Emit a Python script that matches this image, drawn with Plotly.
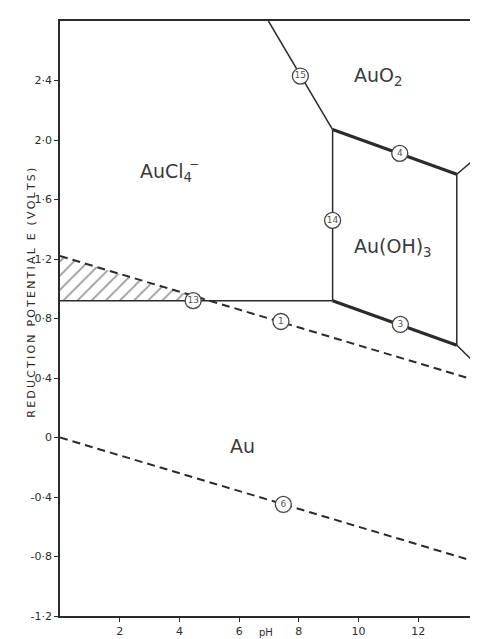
import plotly.graph_objects as go

# boundary lines of the Au-Cl-H2O diagram (pH, E in volts)
line15_ph = [6.98, 9.13]
line15_e = [2.80, 2.07]
line4_ph = [9.13, 13.29]
line4_e = [2.07, 1.77]
upper_right_ph = [13.29, 14.0]
upper_right_e = [1.77, 1.89]
line14_ph = [9.13, 9.13]
line14_e = [2.07, 0.92]
chloride_ph = [0.0, 9.13]
chloride_e = [0.92, 0.92]
line3_ph = [9.13, 13.29]
line3_e = [0.92, 0.62]
vertical_ph = [13.29, 13.29]
vertical_e = [1.77, 0.62]
lower_right_ph = [13.29, 14.0]
lower_right_e = [0.62, 0.48]

# water stability lines (dashed)
oxygen_ph = [0.0, 14.0]
oxygen_e = [1.22, 0.38]
hydrogen_ph = [0.0, 14.0]
hydrogen_e = [0.0, -0.84]

# circled line numbers
circle_labels = ["15", "4", "14", "13", "1", "3", "6"]
circle_ph = [8.05, 11.38, 9.13, 4.46, 7.40, 11.40, 7.48]
circle_e = [2.43, 1.91, 1.46, 0.92, 0.78, 0.76, -0.45]

# region names
region_labels = ["AuCl<sub>4</sub>", "AuO<sub>2</sub>", "Au(OH)<sub>3</sub>", "Au"]
region_ph = [3.55, 10.65, 11.15, 6.1]
region_e = [1.78, 2.43, 1.28, -0.06]

y_tickvals = [2.4, 2.0, 1.6, 1.2, 0.8, 0.4, 0, -0.4, -0.8, -1.2]
y_ticktext = ["2·4", "2·0", "1·6", "1·2", "0·8", "0·4", "0", "-0·4", "-0·8", "-1·2"]
x_tickvals = [2, 4, 6, 8, 10, 12, 14]

INK = "#2b2b2b"
FONT = "DejaVu Sans"

fig = go.Figure()

# hatched triangle between the oxygen line and the chloride boundary
slope = (oxygen_e[1] - oxygen_e[0]) / (oxygen_ph[1] - oxygen_ph[0])
cross_ph = (chloride_e[0] - oxygen_e[0]) / slope
fig.add_trace(go.Scatter(
    x=[0, cross_ph, 0, 0], y=[oxygen_e[0], chloride_e[0], chloride_e[0], oxygen_e[0]],
    fill="toself", mode="lines", line=dict(width=0, color="rgba(0,0,0,0)"),
    fillcolor="rgba(0,0,0,0)",
    fillpattern=dict(shape="/", fgcolor="#333", size=10, solidity=0.18, bgcolor="white"),
    hoverinfo="skip", showlegend=False,
))

thin = [
    (line15_ph, line15_e), (upper_right_ph, upper_right_e), (line14_ph, line14_e),
    (chloride_ph, chloride_e), (vertical_ph, vertical_e), (lower_right_ph, lower_right_e),
]
for xs, ys in thin:
    fig.add_trace(go.Scatter(x=xs, y=ys, mode="lines", line=dict(color=INK, width=1.5),
                             showlegend=False, hoverinfo="skip"))

for xs, ys in [(line4_ph, line4_e), (line3_ph, line3_e)]:
    fig.add_trace(go.Scatter(x=xs, y=ys, mode="lines", line=dict(color=INK, width=3.2),
                             showlegend=False, hoverinfo="skip"))

for xs, ys in [(oxygen_ph, oxygen_e), (hydrogen_ph, hydrogen_e)]:
    fig.add_trace(go.Scatter(x=xs, y=ys, mode="lines",
                             line=dict(color=INK, width=2, dash="8px,5px"),
                             showlegend=False, hoverinfo="skip"))

fig.add_trace(go.Scatter(
    x=circle_ph, y=circle_e, mode="markers+text", text=circle_labels,
    textposition="middle center", textfont=dict(family=FONT, size=9, color="#555"),
    marker=dict(symbol="circle", size=16, color="white", line=dict(color="#444", width=1.3)),
    showlegend=False, hoverinfo="skip",
))

for txt, px, pe in zip(region_labels, region_ph, region_e):
    fig.add_annotation(x=px, y=pe, text=txt, showarrow=False,
                       font=dict(family=FONT, size=19, color="#3a3a3a"))
# the charge on the chloro complex sits above the subscript
fig.add_annotation(x=region_ph[0], y=region_e[0], text="−", showarrow=False,
                   xshift=28, yshift=9, font=dict(family=FONT, size=12, color="#3a3a3a"))

# spaced-out capitals for the vertical axis title
ytitle = "\u2009".join("REDUCTION POTENTIAL E (VOLTS)")
fig.add_annotation(xref="paper", yref="y", x=0, y=0.97, xshift=-37, textangle=-90,
                   text=ytitle, showarrow=False,
                   font=dict(family=FONT, size=11, color=INK))
fig.add_annotation(xref="x", yref="paper", x=6.9, y=0, yshift=-24, text="pH",
                   showarrow=False, font=dict(family=FONT, size=10, color=INK))

fig.update_xaxes(range=[0, 14], tickvals=x_tickvals, showgrid=False, zeroline=False,
                 showline=True, linecolor=INK, linewidth=1.5, mirror=True,
                 ticks="outside", ticklen=4, tickcolor=INK, automargin=False,
                 tickfont=dict(family=FONT, size=11, color=INK))
fig.update_yaxes(range=[-1.2, 2.8], tickvals=y_tickvals, ticktext=y_ticktext,
                 showgrid=False, zeroline=False, showline=True, linecolor=INK,
                 linewidth=1.5, mirror=True, ticks="outside", ticklen=4, tickcolor=INK,
                 automargin=False, tickfont=dict(family=FONT, size=11, color=INK))

fig.update_layout(width=478, height=639, margin=dict(l=52, r=8, t=13, b=31),
                  plot_bgcolor="white", paper_bgcolor="white")

fig.write_html("out.html")
